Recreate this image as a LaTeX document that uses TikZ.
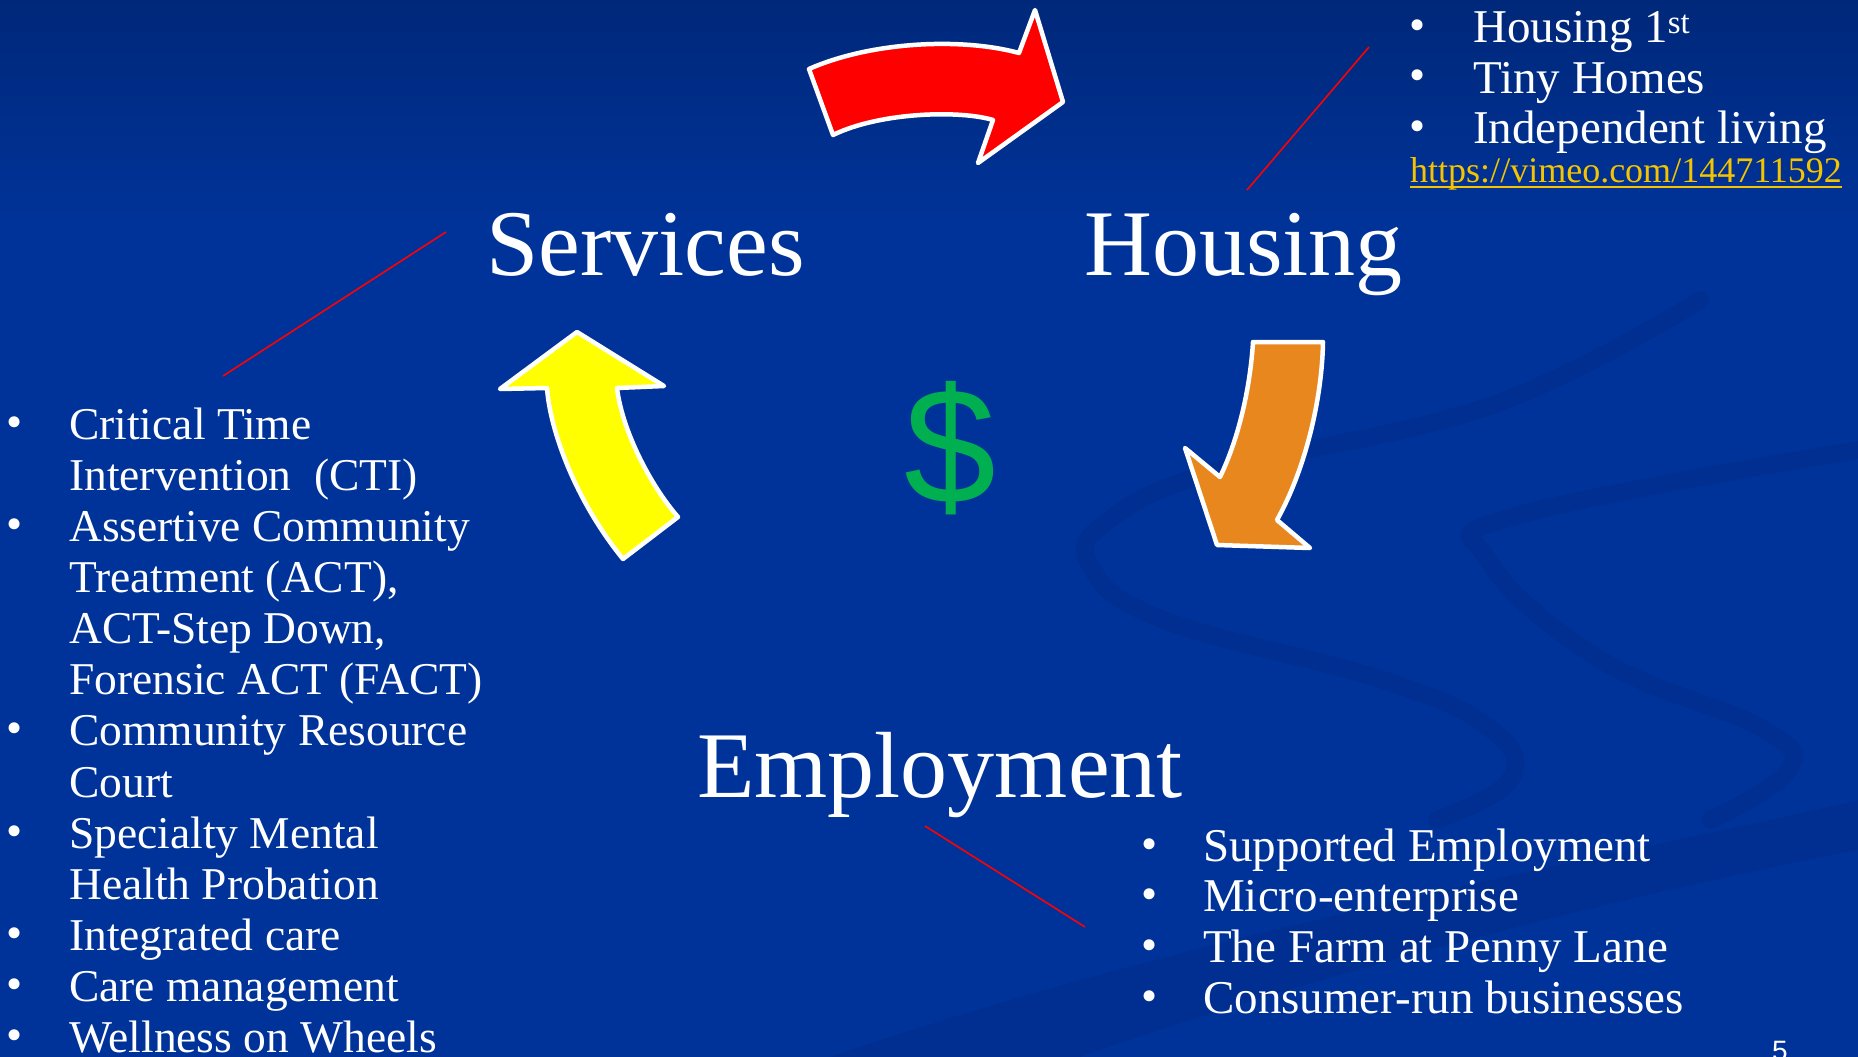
\documentclass[tikz,border=0pt]{standalone}
\usepackage{fontspec}
\setmainfont{Liberation Serif}
\newfontfamily\sansfam{Liberation Sans}
\usepackage{tikz}
\usetikzlibrary{positioning}

\definecolor{slideblue}{RGB}{0,51,153}
\definecolor{slidetop}{RGB}{0,40,122}
\definecolor{swooshblue}{RGB}{0,40,128}
\definecolor{arrowred}{RGB}{255,0,0}
\definecolor{arrowyellow}{RGB}{255,255,0}
\definecolor{arroworange}{RGB}{232,135,30}
\definecolor{dollargreen}{RGB}{0,176,80}
\definecolor{linkgold}{RGB}{245,196,0}

\begin{document}
\begin{tikzpicture}[x=1pt,y=-1pt,
  title/.style={anchor=base west,inner sep=0pt,text=white,font=\fontsize{94}{100}\selectfont},
  item/.style={anchor=base west,inner sep=0pt,text=white,font=\fontsize{47}{51}\selectfont},
  dot/.style={anchor=base,inner sep=0pt,text=white,font=\fontsize{46}{46}\selectfont},
  blockarrow/.style={draw=white,line width=4.5pt,line join=round},
  pointer/.style={draw=red,line width=1.6pt},
  swoosh/.style={draw=swooshblue,line cap=round,opacity=0.3}]
  \useasboundingbox (0,0) rectangle (1858,1057);
  \clip (0,0) rectangle (1858,1057);
  % background
  \fill[slideblue] (0,0) rectangle (1858,1057);
  \shade[top color=slidetop,bottom color=slideblue] (0,0) rectangle (1858,230);
  \draw[swoosh,line width=18pt] plot[smooth,tension=0.7] coordinates
    {(1700,300) (1492,405) (1219,470) (1109,520) (1090,565) (1164,620) (1383,680) (1492,730) (1510,780) (1437,820)};
  \draw[swoosh,line width=18pt] plot[smooth,tension=0.7] coordinates
    {(1870,448) (1519,515) (1488,560) (1601,660) (1765,730) (1787,772) (1710,820)};
  \fill[swooshblue,opacity=0.3] (830,1057) .. controls (1200,930) and (1600,860) .. (1858,800)
    -- (1858,850) .. controls (1600,900) and (1300,980) .. (1080,1057) -- cycle;

  % cycle arrows
  \draw[blockarrow,fill=arrowred] (809,69) .. controls (870,42) and (960,37) .. (1019,53)
    -- (1035,10) -- (1063,102) -- (978,163) -- (993,120)
    .. controls (960,110) and (880,112) .. (833,135) -- cycle;
  \draw[blockarrow,fill=arroworange] (1253,342) -- (1323,342)
    .. controls (1322,400) and (1305,470) .. (1277,520)
    -- (1310,548) -- (1217,545) -- (1185,448) -- (1220,477)
    .. controls (1238,440) and (1250,390) .. (1253,342) -- cycle;
  \draw[blockarrow,fill=arrowyellow] (577,332) -- (664,386) -- (617,388)
    .. controls (622,430) and (650,485) .. (678,517) -- (623,559)
    .. controls (575,500) and (550,430) .. (547,388) -- (500,389) -- cycle;

  % titles
  \node[title] (services) at (486,275) {Services};
  \node[title] (housing) at (1084,275) {Housing};
  \node[title] (employment) at (697,797) {Employment};
  \node[inner sep=0pt,text=dollargreen,font=\sansfam\fontsize{165}{165}\selectfont] (money) at (950,448) {\$};

  % housing list
  \foreach \txt [count=\i] in {Housing 1\textsuperscript{st},Tiny Homes,Independent living} {
    \node[item] (hitem\i) at (1473,{43+50*(\i-1)}) {\txt};
    \node[dot] (hdot\i) at (1418,{41+50*(\i-1)}) {\textbullet};
  }
  \node[item,text=linkgold,font=\fontsize{36}{40}\selectfont] (link) at (1410,182) {https://vimeo.com/144711592};
  \draw[linkgold,line width=2pt] ([yshift=-5pt]link.base west) -- ([yshift=-5pt]link.base east);

  % services list
  \foreach \txt [count=\i] in {Critical Time,Intervention\ \ (CTI),Assertive Community,{Treatment (ACT),},{ACT-Step Down,},Forensic ACT (FACT),Community Resource,Court,Specialty Mental,Health Probation,Integrated care,Care management,Wellness on Wheels}
    \node[item,font=\fontsize{45.5}{51}\selectfont] (sitem\i) at (69,{439+51.15*(\i-1)}) {\txt};
  \foreach \i in {1,3,7,9,11,12,13}
    \node[dot] (sdot\i) at (15,{437+51.15*(\i-1)}) {\textbullet};

  % employment list
  \foreach \txt [count=\i] in {Supported Employment,Micro-enterprise,The Farm at Penny Lane,Consumer-run businesses} {
    \node[item] (eitem\i) at (1203,{861+50.7*(\i-1)}) {\txt};
    \node[dot] (edot\i) at (1150,{859+50.7*(\i-1)}) {\textbullet};
  }

  % pointer lines
  \coordinate (hpa) at (1247,190);
  \coordinate (hpb) at (1369,47);
  \coordinate (spa) at (223,376);
  \coordinate (spb) at (446,232);
  \coordinate (epa) at (925,826);
  \coordinate (epb) at (1085,927);
  \draw[pointer] (hpa) -- (hpb);
  \draw[pointer] (spa) -- (spb);
  \draw[pointer] (epa) -- (epb);

  % page number
  \node[anchor=base,inner sep=0pt,text=white,font=\sansfam\fontsize{28}{28}\selectfont] (pagenum) at (1780,1060) {5};
\end{tikzpicture}
\end{document}
